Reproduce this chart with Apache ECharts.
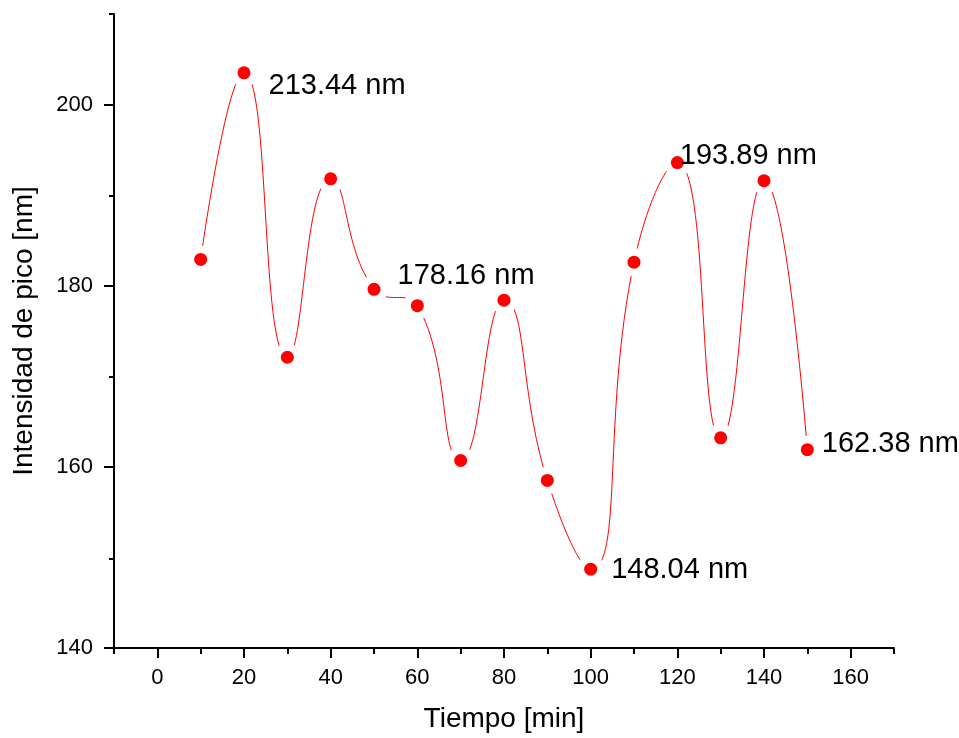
<!DOCTYPE html>
<html>
<head>
<meta charset="utf-8">
<title>Intensidad de pico</title>
<script src="https://cdn.jsdelivr.net/npm/echarts@6/dist/echarts.min.js"></script>
<style>
  html, body { margin: 0; padding: 0; background: #fff; }
  #chart { width: 959px; height: 738px; }
</style>
</head>
<body>
<div id="chart"></div>
<script>
// tiempo [min]
const tiempo = [10, 20, 30, 40, 50, 60, 70, 80, 90, 100, 110, 120, 130, 140, 150]
// intensidad de pico [nm]
const intensidad = [182.9, 203.5, 172.1, 191.8, 179.6, 177.8, 160.7, 178.4, 158.5, 148.7, 182.6, 193.6, 163.2, 191.6, 161.9]
// etiquetas de algunos puntos
const etiquetas = ['', '213.44 nm', '', '', '178.16 nm', '', '', '', '', '148.04 nm', '', '193.89 nm', '', '', '162.38 nm']

const xMajor = [0, 20, 40, 60, 80, 100, 120, 140, 160]
const xMinor = [-10, 10, 30, 50, 70, 90, 110, 130, 150, 170]
const yMajor = [140, 160, 180, 200]
const yMinor = [150, 170, 190, 210]

// desplazamiento de cada etiqueta respecto al punto
const labelOffset = {
  1: [18, 13],
  4: [17, -13],
  9: [14, 1],
  11: [-4, -7],
  14: [8, -6]
}

const FONT = 'Liberation Sans, Arial, sans-serif'
const RED = '#ff0000'

const puntos = tiempo.map((t, i) => [t, intensidad[i]])

const chart = echarts.init(document.getElementById('chart'), null, { renderer: 'canvas' })

const gridRect = { left: 114, top: 14, right: 65, bottom: 89 }

chart.setOption({
  backgroundColor: '#fff',
  animation: false,
  // la segunda rejilla solo lleva las marcas menores
  grid: [gridRect, gridRect],
  xAxis: [{
    type: 'value',
    gridIndex: 0,
    min: -10,
    max: 170,
    name: 'Tiempo [min]',
    nameLocation: 'middle',
    nameGap: 57,
    nameTextStyle: { fontFamily: FONT, fontSize: 28, color: '#000' },
    splitLine: { show: false },
    axisLine: { show: true, onZero: false, lineStyle: { color: '#000', width: 2 } },
    axisTick: { show: true, length: 10, customValues: xMajor, lineStyle: { color: '#000', width: 2 } },
    axisLabel: { show: true, margin: 19, customValues: xMajor, fontFamily: FONT, fontSize: 22, color: '#000' }
  }, {
    type: 'value',
    gridIndex: 1,
    min: -10,
    max: 170,
    splitLine: { show: false },
    axisLine: { show: false, onZero: false },
    axisTick: { show: true, length: 5, customValues: xMinor, lineStyle: { color: '#000', width: 2 } },
    axisLabel: { show: false }
  }],
  yAxis: [{
    type: 'value',
    gridIndex: 0,
    min: 140,
    max: 210,
    name: 'Intensidad de pico [nm]',
    nameLocation: 'middle',
    nameGap: 76,
    nameTextStyle: { fontFamily: FONT, fontSize: 28, color: '#000' },
    splitLine: { show: false },
    axisLine: { show: true, onZero: false, lineStyle: { color: '#000', width: 2 } },
    axisTick: { show: true, length: 10, customValues: yMajor, lineStyle: { color: '#000', width: 2 } },
    axisLabel: { show: true, margin: 21, customValues: yMajor, fontFamily: FONT, fontSize: 22, color: '#000' }
  }, {
    type: 'value',
    gridIndex: 1,
    min: 140,
    max: 210,
    splitLine: { show: false },
    axisLine: { show: false, onZero: false },
    axisTick: { show: true, length: 5, customValues: yMinor, lineStyle: { color: '#000', width: 2 } },
    axisLabel: { show: false }
  }],
  series: [{
    type: 'line',
    data: puntos,
    smooth: 0.5,
    symbol: 'none',
    lineStyle: { color: RED, width: 1 },
    z: 1
  }, {
    // hueco blanco alrededor de cada punto
    type: 'scatter',
    data: puntos,
    symbolSize: 28,
    itemStyle: { color: '#fff', opacity: 1 },
    emphasis: { disabled: true },
    silent: true,
    z: 2
  }, {
    type: 'scatter',
    data: puntos.map((p, i) => {
      if (!etiquetas[i]) return p
      return {
        value: p,
        label: {
          show: true,
          formatter: etiquetas[i],
          position: 'right',
          distance: 0,
          offset: labelOffset[i] || [0, 0],
          fontFamily: FONT,
          fontSize: 29,
          color: '#000'
        }
      }
    }),
    symbolSize: 13,
    itemStyle: { color: RED, opacity: 1 },
    z: 3
  }]
})
</script>
</body>
</html>
